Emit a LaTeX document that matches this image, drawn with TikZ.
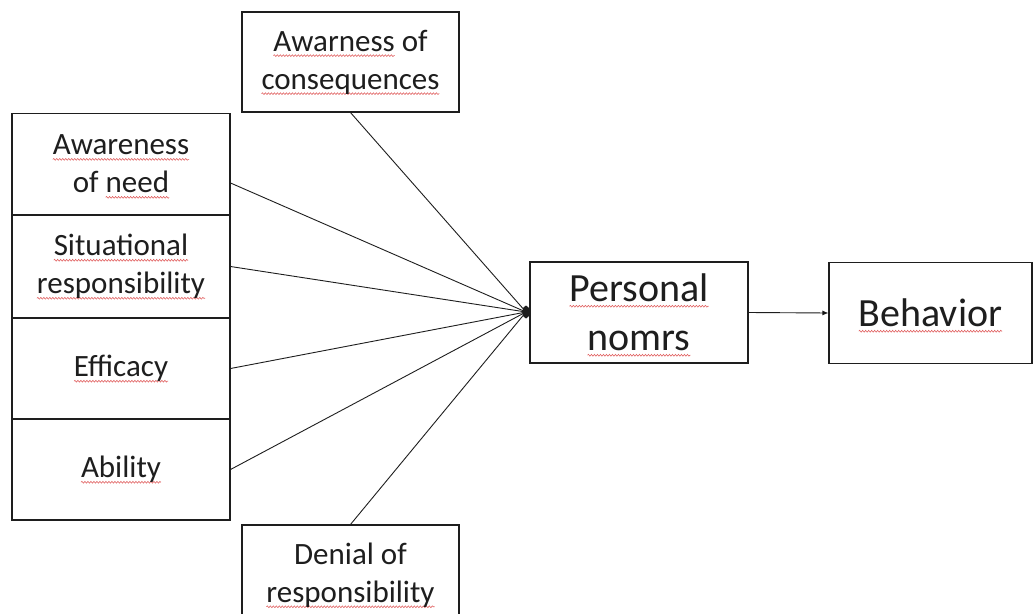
\documentclass[tikz,border=0pt]{standalone}
\usepackage{fontspec}
\setmainfont{Carlito}
\usetikzlibrary{arrows.meta,decorations.pathmorphing}
\definecolor{wavered}{HTML}{E05A5A}
\definecolor{ink}{HTML}{1E1E1E}
\newsavebox\rwbox
\newlength\rwlen
\newcommand\rw[1]{\sbox\rwbox{#1}\setlength\rwlen{\wd\rwbox}%
  \tikz[overlay,baseline=0pt]\draw[wavered,line width=0.55pt,decorate,
    decoration={snake,amplitude=0.9pt,segment length=3pt}](0pt,-4.5pt)--(\rwlen,-4.5pt);%
  \usebox\rwbox}
\tikzset{
  box/.style={draw=ink, line width=1.1pt, minimum width=218pt, minimum height=101pt,
    align=center, inner sep=0pt, text=ink, font=\fontsize{31}{38}\selectfont},
  bigbox/.style={box, font=\fontsize{40}{49}\selectfont},
  link/.style={draw=ink, line width=0.9pt}
}
\begin{document}
\begin{tikzpicture}[x=1pt,y=-1pt]
\clip (0,0) rectangle (1033,613);
\fill[white] (0,0) rectangle (1033,613);
% left stack
\node[box] (need) at (121,164) {\rw{Awareness}\\of \rw{need}};
\node[box, minimum height=103pt] (sit) at (121,266.5) {\rw{Situational}\\\rw{responsibility}};
\node[box] (eff) at (121,368.5) {\rw{Efficacy}};
\node[box] (abil) at (121,469.5) {\rw{Ability}};
% top and bottom
\node[box, minimum width=217pt, minimum height=100pt] (cons) at (350.5,62) {\rw{Awarness} of\\\rw{consequences}};
\node[box, minimum width=217pt, minimum height=100pt] (den) at (350.5,575) {Denial of\\\rw{responsibility}};
% right
\node[bigbox] (pn) at (639,312.5) {\rw{Personal}\\\rw{nomrs}};
\node[bigbox, minimum width=203pt] (beh) at (930.5,313) {\rw{Behavior}};
% junction
\coordinate (j) at (526,312);
\fill[ink] (j) ellipse (3.5 and 6.5);
\draw[link] ([yshift=-19pt]need.east) -- (j);
\draw[link] (sit.east) -- (j);
\draw[link] (eff.east) -- (j);
\draw[link] (abil.east) -- (j);
\draw[link] (cons.south) -- (j);
\draw[link] (den.north) -- (j);
\draw[link, -{Latex[length=6pt,width=5pt]}] (pn.east) -- (beh.west);
\end{tikzpicture}
\end{document}
